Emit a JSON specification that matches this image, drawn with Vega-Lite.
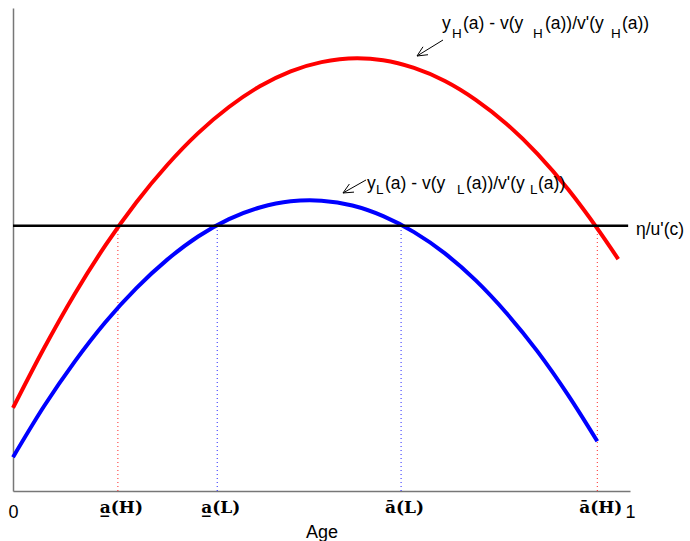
{
  "$schema": "https://vega.github.io/schema/vega-lite/v6.json",
  "width": 617,
  "height": 483,
  "autosize": {"type": "none"},
  "padding": {"left": 13, "top": 8, "right": 60, "bottom": 50},
  "background": "white",
  "config": {"view": {"stroke": null}, "axis": {"grid": false}},
  "datasets": {
    "curves": [
      {"x": 0, "y": 17.2, "s": "H"}, {"x": 0.05, "y": 29.5, "s": "H"}, {"x": 0.1, "y": 40.8, "s": "H"},
      {"x": 0.15, "y": 50.9, "s": "H"}, {"x": 0.2, "y": 59.8, "s": "H"}, {"x": 0.25, "y": 67.5, "s": "H"},
      {"x": 0.3, "y": 74.1, "s": "H"}, {"x": 0.35, "y": 79.5, "s": "H"}, {"x": 0.4, "y": 83.8, "s": "H"},
      {"x": 0.45, "y": 86.9, "s": "H"}, {"x": 0.5, "y": 88.8, "s": "H"}, {"x": 0.558, "y": 89.6, "s": "H"},
      {"x": 0.6, "y": 89.2, "s": "H"}, {"x": 0.65, "y": 87.6, "s": "H"}, {"x": 0.7, "y": 84.9, "s": "H"},
      {"x": 0.75, "y": 81.0, "s": "H"}, {"x": 0.8, "y": 76.0, "s": "H"}, {"x": 0.85, "y": 69.8, "s": "H"},
      {"x": 0.9, "y": 62.4, "s": "H"}, {"x": 0.95, "y": 53.8, "s": "H"}, {"x": 0.981, "y": 48.0, "s": "H"},
      {"x": 0, "y": 7.0, "s": "L"}, {"x": 0.05, "y": 17.5, "s": "L"}, {"x": 0.1, "y": 26.8, "s": "L"},
      {"x": 0.15, "y": 35.0, "s": "L"}, {"x": 0.2, "y": 42.0, "s": "L"}, {"x": 0.25, "y": 47.9, "s": "L"},
      {"x": 0.3, "y": 52.7, "s": "L"}, {"x": 0.35, "y": 56.3, "s": "L"}, {"x": 0.4, "y": 58.7, "s": "L"},
      {"x": 0.45, "y": 60.0, "s": "L"}, {"x": 0.481, "y": 60.2, "s": "L"}, {"x": 0.5, "y": 60.1, "s": "L"},
      {"x": 0.55, "y": 59.1, "s": "L"}, {"x": 0.6, "y": 56.9, "s": "L"}, {"x": 0.65, "y": 53.6, "s": "L"},
      {"x": 0.7, "y": 49.2, "s": "L"}, {"x": 0.75, "y": 43.6, "s": "L"}, {"x": 0.8, "y": 36.8, "s": "L"},
      {"x": 0.85, "y": 28.9, "s": "L"}, {"x": 0.9, "y": 19.8, "s": "L"}, {"x": 0.947, "y": 10.3, "s": "L"}
    ],
    "hline": [{"x": 0, "y": 54.9}, {"x": 0.997, "y": 54.9}],
    "vlines": [
      {"x": 0.17, "c": "H"}, {"x": 0.331, "c": "L"}, {"x": 0.629, "c": "L"}, {"x": 0.947, "c": "H"}
    ],
    "arrows": [
      {"seg": "a1s", "o": 0, "x": 0.6969, "y": 93.37}, {"seg": "a1s", "o": 1, "x": 0.6548, "y": 90.06},
      {"seg": "a1h", "o": 0, "x": 0.6726, "y": 90.33}, {"seg": "a1h", "o": 1, "x": 0.6548, "y": 90.06},
      {"seg": "a1h", "o": 2, "x": 0.6645, "y": 91.97},
      {"seg": "a2s", "o": 0, "x": 0.5721, "y": 64.39}, {"seg": "a2s", "o": 1, "x": 0.5348, "y": 61.70},
      {"seg": "a2h", "o": 0, "x": 0.5527, "y": 61.88}, {"seg": "a2h", "o": 1, "x": 0.5348, "y": 61.70},
      {"seg": "a2h", "o": 2, "x": 0.5452, "y": 63.56}
    ],
    "maintext": [
      {"x": 0.6953, "y": 95.65, "t": "y"},
      {"x": 0.7293, "y": 95.65, "t": "(a) - v(y"},
      {"x": 0.8622, "y": 95.65, "t": "(a))/v'(y"},
      {"x": 0.9870, "y": 95.65, "t": "(a))"},
      {"x": 0.5737, "y": 62.53, "t": "y"},
      {"x": 0.6029, "y": 62.53, "t": "(a) - v(y"},
      {"x": 0.7342, "y": 62.53, "t": "(a))/v'(y"},
      {"x": 0.8509, "y": 62.53, "t": "(a))"},
      {"x": 1.0097, "y": 53.0, "t": "η/u'(c)"}
    ],
    "subtext": [
      {"x": 0.7115, "y": 93.8, "t": "H"},
      {"x": 0.8428, "y": 93.8, "t": "H"},
      {"x": 0.9692, "y": 93.8, "t": "H"},
      {"x": 0.5883, "y": 61.5, "t": "L"},
      {"x": 0.7196, "y": 61.5, "t": "L"},
      {"x": 0.8379, "y": 61.5, "t": "L"}
    ]
  },
  "layer": [
    {
      "data": {"name": "vlines"},
      "mark": {"type": "rule", "strokeWidth": 1, "strokeDash": [1, 3], "opacity": 0.85},
      "encoding": {
        "x": {
          "field": "x", "type": "quantitative",
          "scale": {"domain": [0, 1], "nice": false, "zero": false},
          "axis": {
            "values": [0, 0.17, 0.331, 0.629, 0.947, 1],
            "labelExpr": "datum.value == 0 ? '0' : datum.value == 1 ? '1' : datum.value == 0.17 ? 'a\u0332(H)' : datum.value == 0.331 ? 'a\u0332(L)' : datum.value == 0.629 ? '\u0101(L)' : '\u0101(H)'",
            "labelFont": {"condition": {"test": "datum.value == 0 || datum.value == 1", "value": "Liberation Sans"}, "value": "DejaVu Serif"},
            "labelFontWeight": {"condition": {"test": "datum.value == 0 || datum.value == 1", "value": "normal"}, "value": "bold"},
            "labelFontSize": {"condition": {"test": "datum.value == 0 || datum.value == 1", "value": 18}, "value": 17},
            "labelPadding": {"condition": {"test": "datum.value == 0 || datum.value == 1", "value": 12}, "value": 8},
            "labelOffset": {"condition": {"test": "datum.value == 0 || datum.value == 1", "value": 0}, "value": 3},
            "labelBaseline": "top",
            "labelColor": "black",
            "labelOverlap": false,
            "labelFlush": false,
            "labelBound": false,
            "ticks": false,
            "domainColor": "#777777",
            "domainWidth": 1.5,
            "title": "Age",
            "titleFont": "Liberation Sans",
            "titleFontSize": 18,
            "titleFontWeight": "normal",
            "titleColor": "black",
            "titlePadding": 2
          }
        },
        "y": {"datum": 0, "type": "quantitative",
          "scale": {"domain": [0, 100], "nice": false, "zero": false},
          "axis": {"labels": false, "ticks": false, "title": null, "domainColor": "#777777", "domainWidth": 1.5}},
        "y2": {"datum": 54.9},
        "color": {"field": "c", "type": "nominal", "scale": {"domain": ["H", "L"], "range": ["#ff0000", "#0000ff"]}, "legend": null}
      }
    },
    {
      "data": {"name": "curves"},
      "mark": {"type": "line", "strokeWidth": 4, "interpolate": "monotone"},
      "encoding": {
        "x": {"field": "x", "type": "quantitative"},
        "y": {"field": "y", "type": "quantitative"},
        "color": {"field": "s", "type": "nominal", "legend": null}
      }
    },
    {
      "data": {"name": "hline"},
      "mark": {"type": "line", "strokeWidth": 2.5, "color": "black"},
      "encoding": {
        "x": {"field": "x", "type": "quantitative"},
        "y": {"field": "y", "type": "quantitative"}
      }
    },
    {
      "data": {"name": "arrows"},
      "mark": {"type": "line", "strokeWidth": 1, "color": "black"},
      "encoding": {
        "x": {"field": "x", "type": "quantitative"},
        "y": {"field": "y", "type": "quantitative"},
        "detail": {"field": "seg"},
        "order": {"field": "o"}
      }
    },
    {
      "data": {"name": "maintext"},
      "mark": {"type": "text", "align": "left", "baseline": "alphabetic", "font": "Liberation Sans", "fontSize": 17.5, "color": "black"},
      "encoding": {
        "x": {"field": "x", "type": "quantitative"},
        "y": {"field": "y", "type": "quantitative"},
        "text": {"field": "t"}
      }
    },
    {
      "data": {"name": "subtext"},
      "mark": {"type": "text", "align": "left", "baseline": "alphabetic", "font": "Liberation Sans", "fontSize": 13.5, "color": "black"},
      "encoding": {
        "x": {"field": "x", "type": "quantitative"},
        "y": {"field": "y", "type": "quantitative"},
        "text": {"field": "t"}
      }
    }
  ]
}
